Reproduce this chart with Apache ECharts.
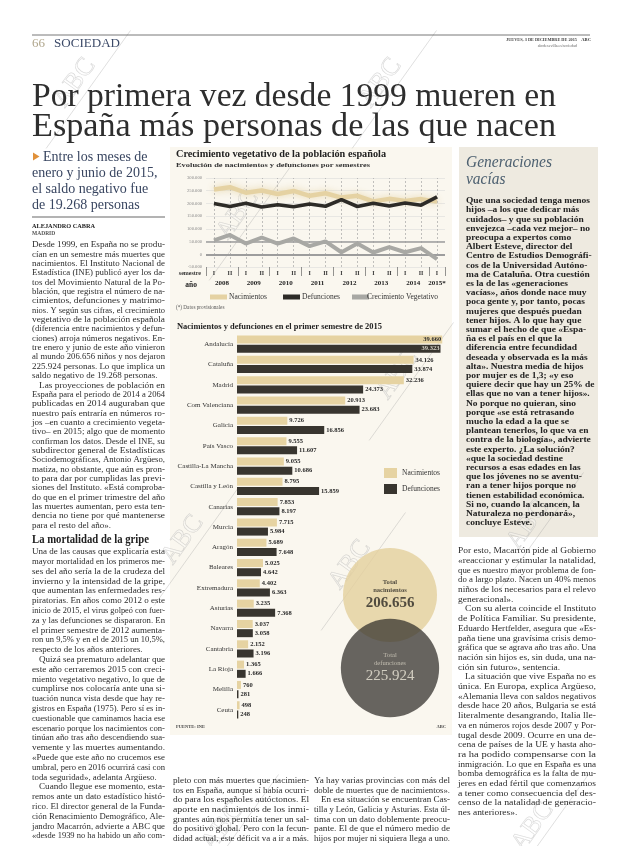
<!DOCTYPE html>
<html><head><meta charset="utf-8">
<script src="https://cdn.jsdelivr.net/npm/echarts@6/dist/echarts.min.js"></script>
<style>html,body{margin:0;padding:0;background:#fff}#c{width:620px;height:846px}</style>
</head><body><div id="c"></div>
<script>
// ---------------- DATA ----------------
const semesters = ['I','II','I','II','I','II','I','II','I','II','I','II','I','II','I'];
const years = ['2008','2009','2010','2011','2012','2013','2014','2015*'];
const births = [255000,264000,242000,251000,237000,249000,230000,240000,223000,230000,208000,218000,210000,217000,207000];
const deaths = [200000,188000,201000,186000,195000,187000,198000,189000,215000,188000,201000,190000,202000,193000,226000];
const growth = [55000,76000,42000,66000,42000,62000,32000,51000,8000,42000,7000,28000,8000,24000,-19000];
const lineSeriesNames = ['Nacimientos','Defunciones','Crecimiento Vegetativo'];
const lineColors = ['#e5d2a3','#2d2b27','#a8a8a4'];

const regions = ['Andalucía','Cataluña','Madrid','Com Valenciana','Galicia','País Vasco','Castilla-La Mancha','Castilla y León','Canarias','Murcia','Aragón','Baleares','Extremadura','Asturias','Navarra','Cantabria','La Rioja','Melilla','Ceuta'];
const regionBirths = [39660,34126,32236,20913,9726,9555,9055,8795,7853,7715,5689,5025,4402,3235,3037,2152,1365,760,498];
const regionDeaths = [39323,33874,24373,23683,16856,11607,10686,15859,8197,5984,7648,4642,6363,7368,3058,3196,1666,281,248];
const barSeriesNames = ['Nacimientos','Defunciones'];

const totalNames = ['Total nacimientos','Total defunciones'];
const totals = [206656,225924];

// ---------------- TEXT ----------------
const headline = ['Por primera vez desde 1999 mueren en','España más personas de las que nacen'];
const deck = ['Entre los meses de','enero y junio de 2015,','el saldo negativo fue','de 19.268 personas'];
const colLeft1 = [
'Desde 1999, en España no se produ-','cían en un semestre más muertes que','nacimientos. El Instituto Nacional de',
'Estadística (INE) publicó ayer los da-','tos del Movimiento Natural de la Po-','blación, que registra el número de na-',
'cimientos, defunciones y matrimo-','nios. Y según sus cifras, el crecimiento','vegetativo de la población española',
'(diferencia entre nacimientos y defun-','ciones) arroja números negativos. En-','tre enero y junio de este año vinieron',
'al mundo 206.656 niños y nos dejaron','225.924 personas. Lo que implica un','saldo negativo de 19.268 personas.$',
'>Las proyecciones de población en','España para el periodo de 2014 a 2064','publicadas en 2014 auguraban que',
'nuestro país entraría en números ro-','jos –en cuanto a crecimiento vegeta-','tivo– en 2015; algo que de momento',
'confirman los datos. Desde el INE, su','subdirector general de Estadísticas','Sociodemográficas, Antonio Argüeso,',
'matiza, no obstante, que aún es pron-','to para dar por cumplidas las previ-','siones del Instituto. «Está comproba-',
'do que en el primer trimestre del año','las muertes aumentan, pero esta ten-','dencia no tiene por qué mantenerse',
'para el resto del año».$'];
const colLeft2 = [
'Una de las causas que explicaría esta','mayor mortalidad en los primeros me-','ses del año sería la de la crudeza del',
'invierno y la intensidad de la gripe,','que aumentan las enfermedades res-','piratorias. En años como 2012 o este',
'inicio de 2015, el virus golpeó con fuer-','za y las defunciones se dispararon. En','el primer semestre de 2012 aumenta-',
'ron un 9,5% y en el de 2015 un 10,5%,','respecto de los años anteriores.$',
'>Quizá sea prematuro adelantar que','este año cerraremos 2015 con creci-','miento vegetativo negativo, lo que de',
'cumplirse nos colocaría ante una si-','tuación nunca vista desde que hay re-','gistros en España (1975). Pero sí es in-',
'cuestionable que caminamos hacia ese','escenario porque los nacimientos con-','tinúan año tras año descendiendo sua-',
'vemente y las muertes aumentando.','«Puede que este año no crucemos ese','umbral, pero en 2016 ocurrirá casi con',
'toda seguridad», adelanta Argüeso.$',
'>Cuando llegue ese momento, esta-','remos ante un dato estadístico histó-','rico. El director general de la Funda-',
'ción Renacimiento Demográfico, Ale-','jandro Macarrón, advierte a ABC que','«desde 1939 no ha habido un año com-'];
const colMidA = ['pleto con más muertes que nacimien-','tos en España, aunque sí había ocurri-','do para los españoles autóctonos. El',
'aporte en nacimientos de los inmi-','grantes aún nos permitía tener un sal-','do positivo global. Pero con la fecun-','didad actual, este déficit va a ir a más.'];
const colMidB = ['Ya hay varias provincias con más del','doble de muertes que de nacimientos».$','>En esa situación se encuentran Cas-',
'tilla y León, Galicia y Asturias. Esta úl-','tima con un dato doblemente preocu-','pante. El de que el número medio de','hijos por mujer ni siquiera llega a uno.'];
const colRight = ['Por esto, Macarrón pide al Gobierno','«reaccionar y estimular la natalidad,','que es nuestro mayor problema de fon-',
'do a largo plazo. Nacen un 40% menos','niños de los necesarios para el relevo','generacional».$',
'>Con su alerta coincide el Instituto','de Política Familiar. Su presidente,','Eduardo Hertfelder, asegura que «Es-',
'paña tiene una gravísima crisis demo-','gráfica que se agrava año tras año. Una','nación sin hijos es, sin duda, una na-',
'ción sin futuro», sentencia.$',
'>La situación que vive España no es','única. En Europa, explica Argüeso,','«Alemania lleva con saldos negativos',
'desde hace 20 años, Bulgaria se está','literalmente desangrando, Italia lle-','va en números rojos desde 2007 y Por-',
'tugal desde 2009. Ocurre en una de-','cena de países de la UE y hasta aho-','ra ha podido compensarse con la',
'inmigración. Lo que en España es una','bomba demográfica es la falta de mu-','jeres en edad fértil que comenzamos',
'a tener como consecuencia del des-','censo de la natalidad de generacio-','nes anteriores».$'];
const sidebar = ['Que una sociedad tenga menos','hijos –a los que dedicar más','cuidados– y que su población',
'envejezca –cada vez mejor– no','preocupa a expertos como','Albert Esteve, director del','Centro de Estudios Demográfi-',
'cos de la Universidad Autóno-','ma de Cataluña. Otra cuestión','es la de las «generaciones','vacías», años donde nace muy',
'poca gente y, por tanto, pocas','mujeres que después puedan','tener hijos. A lo que hay que','sumar el hecho de que «Espa-',
'ña es el país en el que la','diferencia entre fecundidad','deseada y observada es la más','alta». Nuestra media de hijos',
'por mujer es de 1,3; «y eso','quiere decir que hay un 25% de','ellas que no van a tener hijos».','No porque no quieran, sino',
'porque «se está retrasando','mucho la edad a la que se','plantean tenerlos, lo que va en','contra de la biología», advierte',
'este experto. ¿La solución?','«que la sociedad destine','recursos a esas edades en las','que los jóvenes no se aventu-',
'ran a tener hijos porque no','tienen estabilidad económica.','Si no, cuando la alcancen, la','Naturaleza no perdonará»,','concluye Esteve.'];

// ---------------- HELPERS ----------------
const SERIF = '"Liberation Serif"';
const fmt = v => { const s = String(Math.abs(v)).replace(/\B(?=(\d{3})+(?!\d))/g, '.'); return (v < 0 ? '-' : '') + s; };
const mctx = document.createElement('canvas').getContext('2d');
function mw(t, font) { mctx.font = font; return mctx.measureText(t).width; }
const G = [];
function txt(t, x, y, font, fill, o = {}) {
  const el = { type: 'text', x, y, silent: true, z: o.z || 10,
    style: { text: t, font, fill, align: o.align || 'left', verticalAlign: 'middle' } };
  if (o.width) el.scaleX = o.width / mw(t, font);
  else if (o.scale) el.scaleX = o.scale;
  G.push(el);
}
function block(lines, x, y0, step, width, font, fill) {
  const items = lines.map(l => {
    let ind = 0, t = l, last = false;
    if (t.startsWith('>')) { ind = 7; t = t.slice(1); }
    if (t.endsWith('$')) { last = true; t = t.slice(0, -1); }
    const w = mw(t, font);
    return { t, ind, last, s: (width - ind) / w };
  });
  const js = items.filter(it => !it.last).map(it => it.s).sort((a, b) => a - b);
  const med = js.length ? js[Math.floor(js.length / 2)] : 1;
  items.forEach((it, i) => {
    const s = it.last ? Math.min(med, it.s) : it.s;
    txt(it.t, x + it.ind, y0 + i * step, font, fill, { scale: s });
  });
}
function ragged(lines, x, y0, step, font, fill, scale) {
  lines.forEach((t, i) => txt(t, x, y0 + i * step, font, fill, { scale }));
}
function rect(x, y, w, h, fill, z) { G.push({ type: 'rect', silent: true, z: z == null ? -10 : z, shape: { x, y, width: w, height: h }, style: { fill } }); }
function hline(x1, x2, y, stroke, lw) { G.push({ type: 'line', silent: true, z: 5, shape: { x1, y1: y, x2, y2: y }, style: { stroke, lineWidth: lw } }); }
function wm(cx, cy) {
  G.push({ type: 'group', x: cx, y: cy, rotation: 0.95, silent: true, z: 30, children: [
    { type: 'line', shape: { x1: -70, y1: 6, x2: 75, y2: 6 }, style: { stroke: 'rgba(150,150,150,0.35)', lineWidth: 0.8 } },
    { type: 'text', x: 0, y: 4, style: { text: 'ABC', font: '26px ' + SERIF, fill: 'rgba(255,255,255,0.25)', stroke: 'rgba(150,150,150,0.38)', lineWidth: 0.7, align: 'center', verticalAlign: 'bottom' } }
  ] });
}

// ---------------- PAGE GRAPHICS ----------------
rect(170, 147, 282, 588, '#faf7ef');
rect(459, 147, 139, 390, '#eeeae0');
hline(32, 590, 35, '#555', 0.8);
txt('66', 32, 44, '13px ' + SERIF, '#b0a68c');
txt('SOCIEDAD', 54, 44, '13px ' + SERIF, '#3c4a68', { width: 66 });
txt('JUEVES, 3 DE DICIEMBRE DE 2015', 577, 40, 'bold 4.3px ' + SERIF, '#444', { align: 'right' });
txt('ABC', 591, 40, 'bold 4.6px ' + SERIF, '#333', { align: 'right' });
txt('abcdesevilla.es/sociedad', 577, 45.5, '4px ' + SERIF, '#666', { align: 'right' });
txt(headline[0], 32, 97, '33px ' + SERIF, '#2e2e2e', { width: 524 });
txt(headline[1], 32, 127, '33px ' + SERIF, '#2e2e2e', { width: 524 });
G.push({ type: 'polygon', silent: true, z: 10, shape: { points: [[33, 152.5], [39.5, 156.5], [33, 160.5]] }, style: { fill: '#e0913a' } });
deck.forEach((t, i) => txt(t, i === 0 ? 43 : 32, 157 + i * 16, '14px ' + SERIF, '#384560'));
hline(32, 165, 217, '#9a9a9a', 1.6);
txt('ALEJANDRO CABRA', 32, 226, 'bold 6.3px ' + SERIF, '#222');
txt('MADRID', 32, 234, 'bold 5.5px ' + SERIF, '#555');
const BODY = '8.6px ' + SERIF;
block(colLeft1, 32, 245, 9.35, 133, BODY, '#2c2c2c');
txt('La mortalidad de la gripe', 32, 540, 'bold 11.5px ' + SERIF, '#222', { width: 117 });
block(colLeft2, 32, 552, 9.8, 133, BODY, '#2c2c2c');
block(colMidA, 173, 781, 9.6, 136, BODY, '#2c2c2c');
block(colMidB, 314, 781, 9.6, 136, BODY, '#2c2c2c');
block(colRight, 458, 551, 9.7, 138, BODY, '#2c2c2c');
txt('Generaciones', 466, 163, 'italic 17px ' + SERIF, '#4d6070', { width: 86 });
txt('vacías', 466, 180, 'italic 17px ' + SERIF, '#4d6070', { scale: 86 / mw('Generaciones', 'italic 17px ' + SERIF) });
const SB = 'bold 8.2px ' + SERIF;
ragged(sidebar, 466, 201, 9.2, SB, '#222', 124 / mw(sidebar[0], SB));
// infographic texts
txt('Crecimiento vegetativo de la población española', 176, 155, 'bold 9.5px ' + SERIF, '#222', { width: 210 });
txt('Evolución de nacimientos y defunciones por semestres', 176, 165, 'bold 7px ' + SERIF, '#333', { width: 194 });
txt('semestre', 201, 273, 'bold 6px ' + SERIF, '#333', { align: 'right' });
txt('año', 197, 285, 'bold 7.5px ' + SERIF, '#222', { align: 'right' });
// line chart legend (custom, not data)
[[210, 229], [283, 302], [352, 367]].forEach((p, i) => {
  G.push({ type: 'rect', silent: true, z: 10, shape: { x: p[0], y: 294.5, width: 17, height: 5 }, style: { fill: lineColors[i] } });
  txt(lineSeriesNames[i], p[1], 297, '7.5px ' + SERIF, '#333');
});
txt('(*) Datos provisionales', 176, 308, '5.2px ' + SERIF, '#555');
txt('Nacimientos y defunciones en el primer semestre de 2015', 177, 327, 'bold 7.6px ' + SERIF, '#222', { width: 205 });
txt('FUENTE: INE', 176, 727, 'bold 4.5px ' + SERIF, '#444');
txt('ABC', 446, 727, 'bold 4.5px ' + SERIF, '#444', { align: 'right' });
[[82, 88], [388, 88], [245, 220], [405, 380], [190, 545], [357, 570], [535, 530], [230, 832], [540, 832]].forEach(p => wm(p[0], p[1]));

// ---------------- DERIVED AXIS HELPERS ----------------
const semKeys = semesters.map((s, i) => String(i));
const yearStarts = [];
semesters.forEach((s, i) => { if (s === 'I') yearStarts.push(i); });
const yearEnds = yearStarts.slice(1).concat([semesters.length]);
const yearCenters = yearStarts.map((s, k) => (s + yearEnds[k]) / 2);
const yearTicks = yearStarts.concat([semesters.length]);

const AX_FONT = { fontFamily: SERIF };

const option = {
  animation: false,
  backgroundColor: '#ffffff',
  textStyle: { fontFamily: SERIF },
  graphic: { elements: G },
  legend: [
    { data: barSeriesNames.map(n => n + ' 2015'), orient: 'vertical', left: 379, top: 463, icon: 'rect', itemWidth: 13, itemHeight: 10, itemGap: 6,
      selectedMode: false, formatter: n => n.replace(' 2015', ''), textStyle: { fontSize: 7.5, color: '#333', fontFamily: SERIF } }
  ],
  grid: [
    { left: 206, top: 178, width: 239, height: 89 },
    { left: 237, top: 334, width: 207, height: 386 },
    { left: 350, top: 558.5, width: 80, height: 146 }
  ],
  xAxis: [
    { gridIndex: 0, type: 'category', data: semKeys, boundaryGap: true, axisLine: { show: false }, axisTick: { show: false }, splitLine: { show: false },
      axisLabel: { interval: 0, margin: 3, formatter: (v, i) => semesters[i], fontSize: 6, fontWeight: 'bold', color: '#333', ...AX_FONT } },
    { gridIndex: 0, type: 'value', min: 0, max: semesters.length, interval: 1, position: 'bottom', axisLine: { show: false }, splitLine: { show: false },
      axisTick: { show: true, customValues: yearTicks, length: 9, lineStyle: { color: '#666', width: 0.7 } },
      axisLabel: { customValues: yearCenters, margin: 13, fontSize: 7, fontWeight: 'bold', color: '#222', ...AX_FONT,
        formatter: v => { const k = yearCenters.findIndex(c => Math.abs(c - v) < 1e-6); return k >= 0 ? years[k] : ''; } } },
    { gridIndex: 1, type: 'value', min: 0, max: 40000, show: false },
    { gridIndex: 2, type: 'category', data: ['total'], show: false }
  ],
  yAxis: [
    { gridIndex: 0, type: 'value', min: -50000, max: 300000, interval: 50000, axisLine: { show: false }, axisTick: { show: false },
      axisLabel: { fontSize: 4.6, color: '#8a8a8a', margin: 4, formatter: v => fmt(v), ...AX_FONT },
      splitLine: { lineStyle: { color: '#d6d6d6', width: 0.5 } } },
    { gridIndex: 1, type: 'category', data: regions, inverse: true, axisLine: { show: false }, axisTick: { show: false },
      axisLabel: { interval: 0, fontSize: 7, color: '#333', margin: 4, ...AX_FONT } },
    { gridIndex: 2, type: 'category', data: totalNames, inverse: true, show: false }
  ],
  series: [
    { name: lineSeriesNames[0], type: 'line', xAxisIndex: 0, yAxisIndex: 0, data: births, symbol: 'none', z: 3,
      lineStyle: { color: lineColors[0], width: 4.5, shadowBlur: 7, shadowColor: 'rgba(229,210,163,0.85)' }, itemStyle: { color: lineColors[0] },
      markLine: { silent: true, symbol: 'none', z: 1, label: { show: false },
        lineStyle: { color: '#9a9a9a', type: [2, 2], width: 0.6 },
        data: semKeys.map((k, i) => ({ xAxis: i })).concat([
          { yAxis: 50000, lineStyle: { color: '#9d9d9d', type: 'solid', width: 1.5 } },
          { yAxis: 0, lineStyle: { color: '#9d9d9d', type: 'solid', width: 1.8 } }]) } },
    { name: lineSeriesNames[1], type: 'line', xAxisIndex: 0, yAxisIndex: 0, data: deaths, symbol: 'none', z: 4,
      lineStyle: { color: lineColors[1], width: 3.6 }, itemStyle: { color: lineColors[1] } },
    { name: lineSeriesNames[2], type: 'line', xAxisIndex: 0, yAxisIndex: 0, data: growth, symbol: 'none', z: 3,
      lineStyle: { color: lineColors[2], width: 4 }, itemStyle: { color: lineColors[2] } },
    { name: barSeriesNames[0] + ' 2015', type: 'bar', xAxisIndex: 2, yAxisIndex: 1, barWidth: 8, barGap: '15%',
      itemStyle: { color: '#e6d3a2' },
      label: { show: true, position: 'right', distance: 2, fontSize: 6.5, fontWeight: 'bold', color: '#2a2a2a', fontFamily: SERIF, formatter: p => fmt(p.value) },
      data: regionBirths.map((v, i) => i === 0 ? { value: v, label: { position: 'insideRight', distance: 1 } } : v) },
    { name: barSeriesNames[1] + ' 2015', type: 'bar', xAxisIndex: 2, yAxisIndex: 1, barWidth: 8, barGap: '15%',
      itemStyle: { color: '#38352f' },
      label: { show: true, position: 'right', distance: 2, fontSize: 6.5, fontWeight: 'bold', color: '#2a2a2a', fontFamily: SERIF, formatter: p => fmt(p.value) },
      data: regionDeaths.map((v, i) => i === 0 ? { value: v, label: { position: 'insideRight', distance: 1, color: '#d8d4c8' } } : v) },
    { name: 'totales', type: 'scatter', xAxisIndex: 3, yAxisIndex: 2, z: 3,
      data: totals.map((v, i) => ({
        value: [0, i],
        symbolSize: 2 * 47 * Math.sqrt(v / totals[0]),
        itemStyle: { color: i === 0 ? '#e4cf9c' : 'rgba(50,48,43,0.92)' },
        label: { show: true, position: 'inside',
          formatter: () => totalNames[i].split(' ').map(w => '{t' + i + '|' + w + '}').join('\n') + '\n{n' + i + '|' + fmt(v) + '}',
          rich: {
            t0: { fontSize: 6.6, fontWeight: 'bold', color: '#2b2823', lineHeight: 8.5, fontFamily: SERIF, align: 'center' },
            n0: { fontSize: 15, fontWeight: 'bold', color: '#2b2823', lineHeight: 17, fontFamily: SERIF, align: 'center' },
            t1: { fontSize: 6.6, color: '#d6d1c2', lineHeight: 8.5, fontFamily: SERIF, align: 'center' },
            n1: { fontSize: 15, color: '#ece7d8', lineHeight: 17, fontFamily: SERIF, align: 'center' }
          } }
      })) }
  ]
};
const chart = echarts.init(document.getElementById('c'), null, { renderer: 'canvas' });
chart.setOption(option);
</script></body></html>
